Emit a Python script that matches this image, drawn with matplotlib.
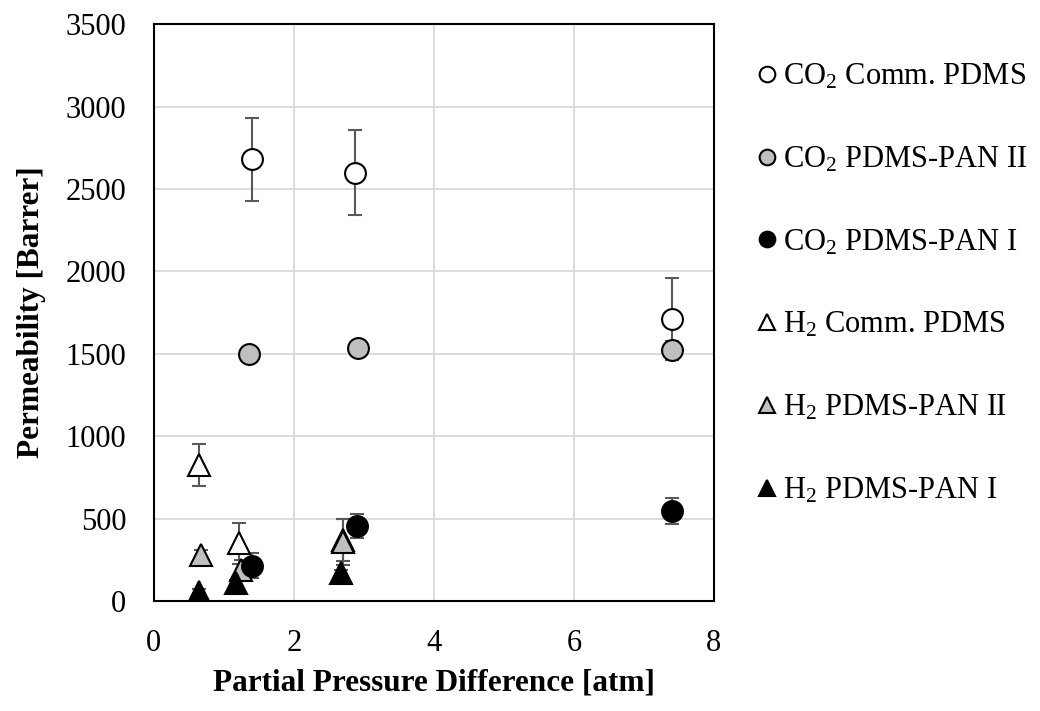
import matplotlib
matplotlib.use("Agg")
import matplotlib.pyplot as plt

plt.rcParams['font.family'] = ['Liberation Serif', 'DejaVu Serif']
plt.rcParams['mathtext.fontset'] = 'custom'
plt.rcParams['mathtext.rm'] = 'Liberation Serif'
plt.rcParams['mathtext.it'] = 'Liberation Serif:italic'
plt.rcParams['mathtext.bf'] = 'Liberation Serif:bold'

# --- data ---
co2_comm_x = [1.40, 2.87, 7.40]
co2_comm_y = [2680, 2600, 1710]
co2_comm_err = [250, 255, 250]

co2_pan2_x = [1.36, 2.91, 7.40]
co2_pan2_y = [1500, 1535, 1520]
co2_pan2_err = [30, 30, 60]

co2_pan1_x = [1.40, 2.90, 7.40]
co2_pan1_y = [215, 455, 545]
co2_pan1_err = [75, 75, 80]

h2_comm_x = [0.64, 1.21, 2.70]
h2_comm_y = [825, 350, 370]
h2_comm_err = [130, 125, 130]

h2_pan2_x = [0.67, 1.24, 2.70]
h2_pan2_y = [280, 190, 360]
h2_pan2_err = [30, 60, 140]

h2_pan1_x = [0.64, 1.17, 2.67]
h2_pan1_y = [55, 110, 170]
h2_pan1_err = [20, 20, 20]

labels = ["CO$_2$ Comm. PDMS", "CO$_2$ PDMS-PAN II", "CO$_2$ PDMS-PAN I",
          "H$_2$ Comm. PDMS", "H$_2$ PDMS-PAN II", "H$_2$ PDMS-PAN I"]
x_ticks = [0, 2, 4, 6, 8]
y_ticks = [0, 500, 1000, 1500, 2000, 2500, 3000, 3500]

fig = plt.figure(figsize=(10.4, 7.11), dpi=100)
ax = fig.add_axes([0.148, 0.1547, 0.5385, 0.8113])

series = [
    (h2_comm_x, h2_comm_y, h2_comm_err, '^', 'white', labels[3]),
    (h2_pan2_x, h2_pan2_y, h2_pan2_err, '^', '#bfbfbf', labels[4]),
    (h2_pan1_x, h2_pan1_y, h2_pan1_err, '^', 'black', labels[5]),
    (co2_comm_x, co2_comm_y, co2_comm_err, 'o', 'white', labels[0]),
    (co2_pan2_x, co2_pan2_y, co2_pan2_err, 'o', '#bfbfbf', labels[1]),
    (co2_pan1_x, co2_pan1_y, co2_pan1_err, 'o', 'black', labels[2]),
]
handles = {}
for xs, ys, es, m, fc, lab in series:
    ax.errorbar(xs, ys, yerr=es, fmt='none', ecolor='#595959', elinewidth=1.5,
                capsize=5, capthick=1.5, zorder=2)
    ms = 15 if m == 'o' else 16
    h, = ax.plot(xs, ys, linestyle='none', marker=m, markersize=ms,
                 markerfacecolor=fc, markeredgecolor='black', markeredgewidth=1.5,
                 zorder=3, label=lab)
    handles[lab] = h

ax.set_xlim(0, 8)
ax.set_ylim(0, 3500)
ax.set_xticks(x_ticks)
ax.set_yticks(y_ticks)
ax.grid(True, color='#d9d9d9', linewidth=1.3)
ax.set_axisbelow(True)
ax.tick_params(length=0, labelsize=22)
ax.tick_params(axis='y', pad=20)
ax.tick_params(axis='x', pad=20)
for s in ax.spines.values():
    s.set_color('black')
    s.set_linewidth(1.5)

ax.set_xlabel('Partial Pressure Difference [atm]', fontsize=22.5, fontweight='bold', labelpad=8)
ax.set_ylabel('Permeability [Barrer]', fontsize=22.5, fontweight='bold', labelpad=14)

leg = fig.legend([handles[l] for l in labels], labels, loc='upper left',
                 bbox_to_anchor=(0.716, 0.93), frameon=False, fontsize=22,
                 labelspacing=1.745, handlelength=0.65, handletextpad=0.2,
                 markerscale=0.75, borderaxespad=0)

fig.savefig('out.png', dpi=100)
